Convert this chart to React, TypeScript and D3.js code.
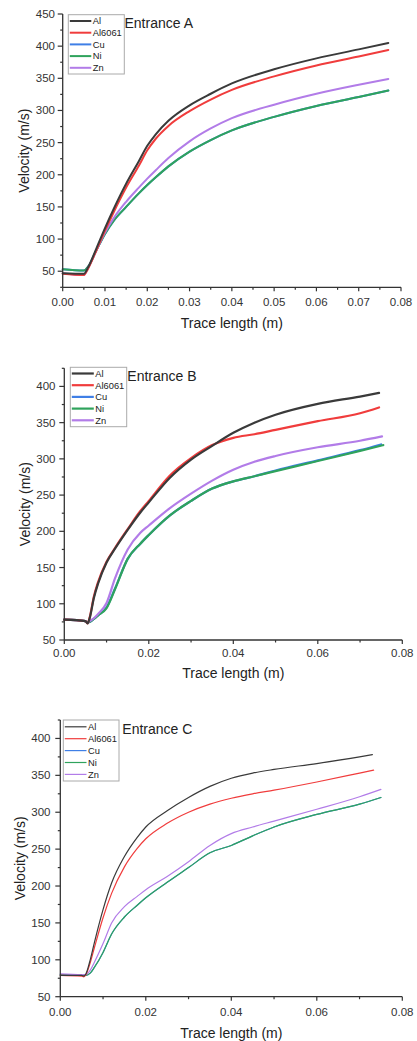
import React from "react";
import * as d3 from "d3";

// ---------- DATA ----------
const seriesNames = ["Al", "Al6061", "Cu", "Ni", "Zn"];
const seriesColors = ["#3a3a3a", "#f03c3c", "#3f7fe6", "#2fa35c", "#b27ce8"];

// Entrance A
const xA = [0, 0.005, 0.006, 0.008, 0.01, 0.012, 0.015, 0.018, 0.02, 0.022, 0.025, 0.03, 0.035, 0.04, 0.05, 0.06, 0.07, 0.077];
const alA = [47, 46, 56, 86, 117, 146, 186, 221, 245, 263, 284, 308, 326, 342, 364, 381, 395, 405];
const al6061A = [46, 44, 54, 83, 113, 141, 180, 214, 238, 256, 276, 299, 317, 332, 353, 370, 384, 394];
const cuA = [53, 51, 57, 83, 108, 128, 150, 171, 184, 196, 213, 236, 254, 269, 290, 307, 321, 331];
const niA = [53, 51, 57, 83, 108, 128, 150, 171, 184, 196, 213, 236, 254, 269, 290, 307, 321, 331];
const znA = [47, 44, 55, 83, 110, 132, 158, 180, 194, 207, 226, 252, 272, 288, 309, 326, 340, 349];

// Entrance B
const xB = [0, 0.005, 0.0055, 0.006, 0.007, 0.008, 0.01, 0.012, 0.015, 0.018, 0.02, 0.025, 0.03, 0.035, 0.04, 0.045, 0.05, 0.06, 0.07];
const xBEnd = [0.0745, 0.0745, 0.075, 0.0755, 0.0752];
const alB = [78, 76, 73, 80, 108, 128, 157, 176, 202, 226, 240, 274, 299, 318, 336, 350, 361, 376, 386, 391];
const al6061B = [78, 76, 73, 81, 110, 130, 158, 177, 203, 228, 242, 277, 301, 319, 329, 334, 340, 352, 363, 371];
const cuB = [78, 76, 74, 75, 79, 84, 95, 121, 162, 183, 195, 222, 242, 259, 269, 276, 284, 298, 312, 320];
const niB = [78, 76, 74, 75, 79, 84, 94, 120, 162, 183, 195, 222, 242, 259, 269, 276, 283, 297, 311, 319];
const znB = [78, 76, 74, 76, 80, 86, 101, 135, 175, 198, 208, 232, 252, 270, 285, 296, 304, 316, 325, 331];

// Entrance C
const xC = [0, 0.005, 0.0055, 0.006, 0.007, 0.008, 0.01, 0.012, 0.015, 0.018, 0.02, 0.025, 0.03, 0.035, 0.04, 0.045, 0.05, 0.06, 0.07];
const xCEnd = [0.073, 0.0733, 0.075, 0.075, 0.075];
const alC = [79, 79, 78, 81, 100, 124, 168, 204, 240, 266, 280, 302, 320, 335, 346, 353, 358, 366, 375, 378];
const al6061C = [79, 78, 77, 80, 96, 117, 157, 190, 226, 251, 264, 285, 300, 311, 319, 325, 330, 341, 353, 357];
const cuC = [80, 79, 79, 79, 82, 90, 110, 135, 158, 174, 184, 205, 225, 245, 255, 268, 280, 297, 311, 320];
const niC = [80, 79, 79, 79, 82, 90, 110, 135, 158, 174, 184, 205, 225, 245, 255, 268, 280, 297, 311, 320];
const znC = [81, 80, 80, 80, 86, 97, 122, 150, 172, 186, 195, 213, 233, 255, 271, 280, 288, 304, 321, 331];

const xTicksA = [0, 0.01, 0.02, 0.03, 0.04, 0.05, 0.06, 0.07, 0.08];
const xMinorA = [0.005, 0.015, 0.025, 0.035, 0.045, 0.055, 0.065, 0.075];
const xTicksBC = [0, 0.02, 0.04, 0.06, 0.08];
const xMinorBC = [0.01, 0.03, 0.05, 0.07];
const yTicksA = [50, 100, 150, 200, 250, 300, 350, 400, 450];
const yMinorA = [25, 75, 125, 175, 225, 275, 325, 375, 425];
const yTicksBC = [50, 100, 150, 200, 250, 300, 350, 400];
const yMinorBC = [75, 125, 175, 225, 275, 325, 375, 425];

const titles = ["Entrance A", "Entrance B", "Entrance C"];
const xTitle = "Trace length (m)";
const yTitle = "Velocity (m/s)";

type Pt = [number, number];

function zip(xs: number[], ys: number[], end?: number): Pt[] {
  const xx = end !== undefined ? [...xs, end] : xs;
  return ys.map((y, i) => [xx[i], y] as Pt);
}

const panels = [
  {
    title: titles[0],
    left: 62.7, right: 401, top: 14, bottom: 287.3,
    yDomain: [25, 450], xTicks: xTicksA, xMinor: xMinorA, yTicks: yTicksA, yMinor: yMinorA,
    series: [zip(xA, alA), zip(xA, al6061A), zip(xA, cuA), zip(xA, niA), zip(xA, znA)],
    lw: 2, xLabelY: 305.8, xTitleY: 327.5, yTitleX: 24, titleX: 124.5, titleY: 28,
    legend: { x: 68.3, y: 14.7, w: 56, h: 59.3, row0: 21, dy: 11.7, lineW: 21.5 },
    yLabelRight: 55,
  },
  {
    title: titles[1],
    left: 64.3, right: 402.3, top: 368.3, bottom: 640,
    yDomain: [50, 425], xTicks: xTicksBC, xMinor: xMinorBC, yTicks: yTicksBC, yMinor: yMinorBC,
    series: [zip(xB, alB, xBEnd[0]), zip(xB, al6061B, xBEnd[1]), zip(xB, cuB, xBEnd[2]), zip(xB, niB, xBEnd[3]), zip(xB, znB, xBEnd[4])],
    lw: 2.2, xLabelY: 657.2, xTitleY: 678, yTitleX: 25, titleX: 127.3, titleY: 380.5,
    legend: { x: 70.3, y: 367.3, w: 56.4, h: 59.4, row0: 373.5, dy: 11.7, lineW: 22 },
    yLabelRight: 55.5,
  },
  {
    title: titles[2],
    left: 60.3, right: 402.3, top: 720, bottom: 996.7,
    yDomain: [50, 425], xTicks: xTicksBC, xMinor: xMinorBC, yTicks: yTicksBC, yMinor: yMinorBC,
    series: [zip(xC, alC, xCEnd[0]), zip(xC, al6061C, xCEnd[1]), zip(xC, cuC, xCEnd[2]), zip(xC, niC, xCEnd[3]), zip(xC, znC, xCEnd[4])],
    lw: 1.2, xLabelY: 1015.8, xTitleY: 1037.5, yTitleX: 20, titleX: 122.3, titleY: 733.5,
    legend: { x: 63.3, y: 720, w: 55.7, h: 61, row0: 726.8, dy: 11.9, lineW: 21.7 },
    yLabelRight: 50.5,
  },
];

const FONT = "Liberation Sans, Arial, Helvetica, sans-serif";

function Panel({ p }: { p: (typeof panels)[number] }) {
  const x = d3.scaleLinear().domain([0, 0.08]).range([p.left, p.right]);
  const y = d3.scaleLinear().domain(p.yDomain).range([p.bottom, p.top]);
  const line = d3
    .line<Pt>()
    .x((d) => x(d[0]))
    .y((d) => y(d[1]))
    .curve(d3.curveMonotoneX);
  const order = [2, 3, 4, 1, 0]; // Cu under Ni, Al on top
  const axisColor = "#333";
  const L = p.legend;
  return (
    <g>
      {order.map((i) => (
        <path
          key={i}
          d={line(p.series[i]) || ""}
          fill="none"
          stroke={seriesColors[i]}
          strokeWidth={p.lw}
          strokeLinejoin="round"
          strokeLinecap="round"
        />
      ))}
      <line x1={p.left} x2={p.left} y1={p.top} y2={p.bottom} stroke={axisColor} strokeWidth={1.3} />
      <line x1={p.left} x2={p.right} y1={p.bottom} y2={p.bottom} stroke={axisColor} strokeWidth={1.3} />
      {p.xTicks.map((t) => (
        <g key={"xt" + t}>
          <line x1={x(t)} x2={x(t)} y1={p.bottom} y2={p.bottom + 4} stroke={axisColor} strokeWidth={1.2} />
          <text x={x(t)} y={p.xLabelY} textAnchor="middle" fontSize={11.5} fontFamily={FONT} fill="#333">
            {d3.format(".2f")(t)}
          </text>
        </g>
      ))}
      {p.xMinor.map((t) => (
        <line key={"xm" + t} x1={x(t)} x2={x(t)} y1={p.bottom} y2={p.bottom + 2.5} stroke={axisColor} strokeWidth={1.2} />
      ))}
      {p.yTicks.map((t) => (
        <g key={"yt" + t}>
          <line x1={p.left - 5} x2={p.left} y1={y(t)} y2={y(t)} stroke={axisColor} strokeWidth={1.2} />
          <text x={p.yLabelRight} y={y(t) + 4} textAnchor="end" fontSize={11.5} fontFamily={FONT} fill="#333">
            {t}
          </text>
        </g>
      ))}
      {p.yMinor.map((t) => (
        <line key={"ym" + t} x1={p.left - 2.5} x2={p.left} y1={y(t)} y2={y(t)} stroke={axisColor} strokeWidth={1.2} />
      ))}
      <text x={(p.left + p.right) / 2} y={p.xTitleY} textAnchor="middle" fontSize={14} fontFamily={FONT} fill="#222">
        {xTitle}
      </text>
      <text
        transform={`translate(${p.yTitleX + 5},${(p.top + p.bottom) / 2}) rotate(-90)`}
        textAnchor="middle"
        fontSize={14}
        fontFamily={FONT}
        fill="#222"
      >
        {yTitle}
      </text>
      <text x={p.titleX} y={p.titleY} fontSize={14} fontFamily={FONT} fill="#222">
        {p.title}
      </text>
      <rect x={L.x} y={L.y} width={L.w} height={L.h} fill="#fff" stroke="#aaa" strokeWidth={1} />
      {seriesNames.map((n, i) => (
        <g key={n}>
          <line
            x1={L.x + 1.5}
            x2={L.x + 1.5 + L.lineW}
            y1={L.row0 + i * L.dy}
            y2={L.row0 + i * L.dy}
            stroke={seriesColors[i]}
            strokeWidth={p.lw}
          />
          <text x={L.x + L.lineW + 3} y={L.row0 + i * L.dy + 3.3} fontSize={9.3} fontFamily={FONT} fill="#222">
            {n}
          </text>
        </g>
      ))}
    </g>
  );
}

export default function App() {
  return (
    <svg
      width={417}
      height={1041}
      viewBox="0 0 417 1041"
      style={{ position: "absolute", left: 0, top: 0, background: "#fff" }}
    >
      <rect x={0} y={0} width={417} height={1041} fill="#fff" />
      {panels.map((p, i) => (
        <Panel key={i} p={p} />
      ))}
    </svg>
  );
}
